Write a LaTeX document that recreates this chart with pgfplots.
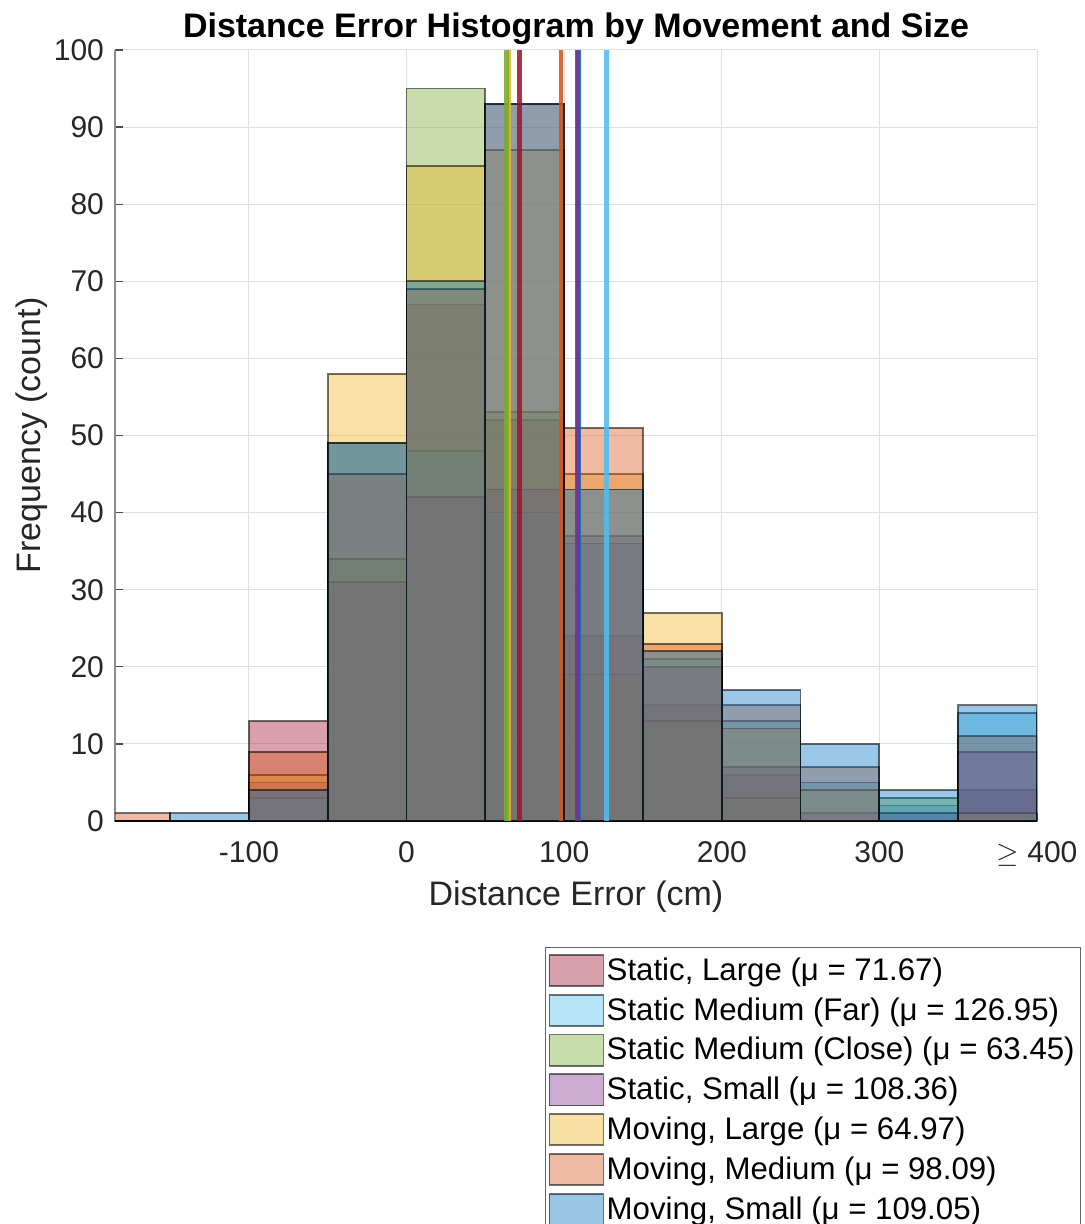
\documentclass[border=0pt]{standalone}
\usepackage{pgfplots}
\pgfplotsset{compat=1.18}
\usepackage{pgfplotstable}
\usepackage{fontspec}
\setmainfont{Liberation Sans}
\definecolor{cSL}{rgb}{0.635,0.078,0.184}
\definecolor{cSMF}{rgb}{0.301,0.745,0.933}
\definecolor{cSMC}{rgb}{0.466,0.674,0.188}
\definecolor{cSS}{rgb}{0.494,0.184,0.556}
\definecolor{cML}{rgb}{0.929,0.694,0.125}
\definecolor{cMM}{rgb}{0.850,0.325,0.098}
\definecolor{cMS}{rgb}{0.000,0.447,0.741}
\pgfplotstableread{
x SL SMF SMC SS ML MM MS
-200 0 0 0 0 0 1 0
-150 0 0 0 0 0 0 1
-100 13 3 0 5 6 9 4
-50 49 49 34 31 58 45 49
0 67 48 95 42 85 69 70
50 52 40 53 43 87 93 93
100 24 36 19 37 45 51 43
150 15 21 13 20 27 23 22
200 6 13 3 7 12 15 17
250 0 5 0 1 4 7 10
300 0 2 3 1 0 0 4
350 4 14 0 9 1 11 15
400 0 0 0 0 0 0 0
}\hist
\pgfplotsset{
  histstyle/.style={ybar interval, fill=#1, fill opacity=0.4, draw=black, draw opacity=0.55, line width=0.9pt,
    legend image code/.code={\draw[fill=#1, fill opacity=0.4, draw=black, draw opacity=0.55, line width=0.9pt] (0pt,-7.8pt) rectangle (27pt,7.8pt);}},
  meanstyle/.style={draw=#1, draw opacity=0.88, line width=2.3pt, forget plot, mark=none}
}
\begin{document}
\begin{tikzpicture}
\begin{axis}[
  at={(0,0)}, anchor=south west,
  scale only axis, width=461pt, height=385.5pt,
  xmin=-185, xmax=400, ymin=0, ymax=100,
  xtick={-100,0,100,200,300,400},
  xticklabels={-100,0,100,200,300,{$\geq$ 400}},
  ytick={0,10,...,100},
  grid=major, grid style={draw=black!12, line width=0.5pt},
  axis x line*=bottom, axis y line*=left,
  axis line style={draw=black!45, line width=0.6pt},
  tick align=inside, major tick length=4pt,
  major tick style={draw=black!70, line width=0.6pt},
  tick label style={font=\fontsize{15}{18}\selectfont, text=black!85},
  /pgf/number format/assume math mode=true,
  xticklabel style={anchor=base, yshift=-20.5pt},
  yticklabel style={xshift=-2pt},
  xlabel={Distance Error (cm)},
  ylabel={Frequency (count)},
  label style={font=\fontsize{17}{20}\selectfont, text=black!85},
  xlabel style={at={(0.5,-0.109)}, anchor=base},
  ylabel style={at={(-0.0813,0.5)}, anchor=base},
  title={Distance Error Histogram by Movement and Size},
  title style={at={(0.5,1)}, anchor=base, font=\bfseries\fontsize{17}{20}\selectfont},
  legend style={at={(0.4664,-0.1634)}, anchor=north west, draw=black!60, line width=0.5pt, fill=white,
    inner xsep=1.5pt, inner ysep=3.3pt, row sep=3.4pt, column sep=0pt,
    font=\fontsize{15.6}{18}\selectfont, nodes={inner sep=1.2pt}},
  legend cell align=left,
]
\addplot[histstyle=cSL] table[x=x,y=SL]{\hist};
\addlegendentry{Static, Large (μ = 71.67)}
\addplot[histstyle=cSMF] table[x=x,y=SMF]{\hist};
\addlegendentry{Static Medium (Far) (μ = 126.95)}
\addplot[histstyle=cSMC] table[x=x,y=SMC]{\hist};
\addlegendentry{Static Medium (Close) (μ = 63.45)}
\addplot[histstyle=cSS] table[x=x,y=SS]{\hist};
\addlegendentry{Static, Small (μ = 108.36)}
\addplot[histstyle=cML] table[x=x,y=ML]{\hist};
\addlegendentry{Moving, Large (μ = 64.97)}
\addplot[histstyle=cMM] table[x=x,y=MM]{\hist};
\addlegendentry{Moving, Medium (μ = 98.09)}
\addplot[histstyle=cMS] table[x=x,y=MS]{\hist};
\addlegendentry{Moving, Small (μ = 109.05)}
\addplot[meanstyle=cMS] coordinates {(109.05,0) (109.05,100)};
\addplot[meanstyle=cMM] coordinates {(98.09,0) (98.09,100)};
\addplot[meanstyle=cML] coordinates {(64.97,0) (64.97,100)};
\addplot[meanstyle=cSS] coordinates {(108.36,0) (108.36,100)};
\addplot[meanstyle=cSMC] coordinates {(63.45,0) (63.45,100)};
\addplot[meanstyle=cSMF] coordinates {(126.95,0) (126.95,100)};
\addplot[meanstyle=cSL] coordinates {(71.67,0) (71.67,100)};
\end{axis}
\pgfresetboundingbox
\useasboundingbox (-57.5pt,-201.5pt) rectangle (484.5pt,410.5pt);
\end{tikzpicture}
\end{document}
